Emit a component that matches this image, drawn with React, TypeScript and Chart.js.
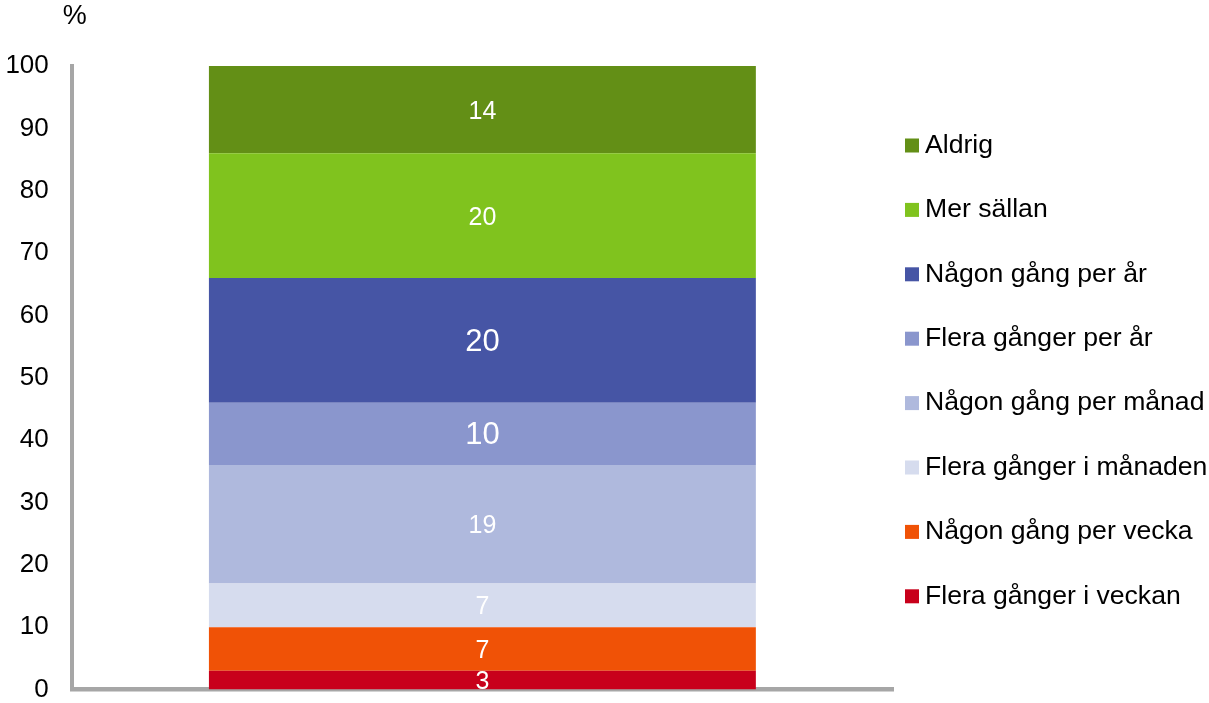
import React, { useEffect, useRef } from 'react';
import { Chart, registerables } from 'chart.js';

Chart.register(...registerables);

// ---- data ----
const categories = [''];
const seriesNames = [
  'Flera gånger i veckan',
  'Någon gång per vecka',
  'Flera gånger i månaden',
  'Någon gång per månad',
  'Flera gånger per år',
  'Någon gång per år',
  'Mer sällan',
  'Aldrig',
];
const seriesValues = [3, 7, 7, 19, 10, 20, 20, 14];
const yMin = 0;
const yMax = 100;
const yStep = 10;
const yUnit = '%';

// ---- styles ----
const seriesColors = ['#C8001B', '#F05206', '#D6DCEE', '#AFB9DD', '#8A96CD', '#4655A5', '#80C31E', '#638F16'];
const valueFontSizes = [25, 25, 25, 25, 31, 31, 25, 25];
const FONT = '"Liberation Sans", Arial, Helvetica, sans-serif';

const overlayPlugin = {
  id: 'overlay',
  afterDatasetsDraw(chart: any) {
    const ctx = chart.ctx as CanvasRenderingContext2D;
    const ca = chart.chartArea;
    ctx.save();
    // value labels inside segments
    ctx.textAlign = 'center';
    ctx.textBaseline = 'middle';
    ctx.fillStyle = '#ffffff';
    chart.data.datasets.forEach((ds: any, i: number) => {
      const meta = chart.getDatasetMeta(i);
      meta.data.forEach((el: any, j: number) => {
        const p = el.getProps(['x', 'y', 'base'], true);
        ctx.font = `${valueFontSizes[i]}px ${FONT}`;
        ctx.fillText(String(ds.data[j]), p.x, (p.y + p.base) / 2 + 2);
      });
    });
    // unit label
    ctx.textAlign = 'left';
    ctx.fillStyle = '#000000';
    ctx.font = `27px ${FONT}`;
    ctx.fillText(yUnit, ca.left - 9, 17);
    // legend (top dataset first)
    const n = chart.data.datasets.length;
    ctx.font = `26.6px ${FONT}`;
    for (let k = 0; k < n; k++) {
      const i = n - 1 - k;
      const ds = chart.data.datasets[i];
      const cy = 145.5 + k * 64.4;
      ctx.fillStyle = ds.backgroundColor;
      ctx.fillRect(ca.right + 12, cy - 7, 14, 14);
      ctx.fillStyle = '#000000';
      ctx.fillText(ds.label, ca.right + 32, cy);
    }
    ctx.restore();
  },
};

export default function App() {
  const canvasRef = useRef<HTMLCanvasElement | null>(null);

  useEffect(() => {
    if (!canvasRef.current) return;
    Chart.defaults.font.family = FONT;
    const chart = new Chart(canvasRef.current, {
      type: 'bar',
      data: {
        labels: categories,
        datasets: seriesNames.map((name, i) => ({
          label: name,
          data: [seriesValues[i]],
          backgroundColor: seriesColors[i],
          borderWidth: 0,
          categoryPercentage: 1,
          barPercentage: 0.666,
        })),
      },
      options: {
        animation: false,
        responsive: true,
        maintainAspectRatio: false,
        devicePixelRatio: 1,
        layout: { padding: { top: 66, bottom: 13.5, left: 5.4, right: 316 } },
        plugins: {
          legend: { display: false },
          tooltip: { enabled: false },
          title: { display: false },
        },
        scales: {
          x: {
            stacked: true,
            ticks: { display: false },
            grid: { display: false, drawTicks: false },
            border: { display: true, color: '#A6A6A6', width: 4.5 },
          },
          y: {
            stacked: true,
            min: yMin,
            max: yMax,
            ticks: {
              stepSize: yStep,
              padding: 0,
              color: '#000000',
              font: { size: 26, lineHeight: 1, family: FONT },
            },
            grid: { display: false, drawTicks: true, tickLength: 23 },
            border: { display: true, color: '#A6A6A6', width: 4 },
          },
        },
      },
      plugins: [overlayPlugin],
    });
    return () => chart.destroy();
  }, []);

  return (
    <div style={{ position: 'fixed', left: 0, top: 0, width: 1209, height: 703, background: '#ffffff' }}>
      <canvas ref={canvasRef} />
    </div>
  );
}
